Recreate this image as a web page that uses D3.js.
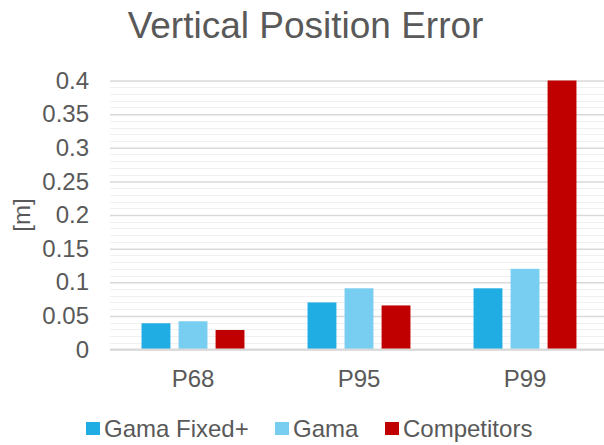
<!DOCTYPE html>
<html>
<head>
<meta charset="utf-8">
<script src="https://cdn.jsdelivr.net/npm/d3@7"></script>
<style>
  html, body { margin: 0; padding: 0; background: #fff; }
  svg { display: block; font-family: "Liberation Sans", Arial, sans-serif; }
</style>
</head>
<body>
<svg id="chart" width="604" height="445"></svg>
<script>
const categories = ["P68", "P95", "P99"];
const seriesNames = ["Gama Fixed+", "Gama", "Competitors"];
const seriesColors = ["#1FADE4", "#77CEF0", "#C00000"];
const gamaFixedValues = [0.039, 0.070, 0.091];
const gamaValues = [0.042, 0.091, 0.120];
const competitorValues = [0.029, 0.0655, 0.400];
const yTicks = [0, 0.05, 0.1, 0.15, 0.2, 0.25, 0.3, 0.35, 0.4];
const yTickLabels = ["0", "0.05", "0.1", "0.15", "0.2", "0.25", "0.3", "0.35", "0.4"];

const seriesValues = [gamaFixedValues, gamaValues, competitorValues];
const data = categories.map((c, i) => ({
  cat: c,
  values: seriesNames.map((s, j) => ({ series: s, value: seriesValues[j][i], color: seriesColors[j] }))
}));

const svg = d3.select("#chart");
const textColor = "#595959";
const plotLeft = 110, plotRight = 608, plotTop = 80.5, plotBottom = 349.5;
const fontSize = 24;

const y = d3.scaleLinear().domain([0, 0.4]).range([plotBottom, plotTop]);
const x0 = d3.scaleBand().domain(categories).range([plotLeft, plotRight]).paddingInner(0.38).paddingOuter(0.19);
const x1 = d3.scaleBand().domain(seriesNames).range([0, x0.bandwidth()]).paddingInner(0.22);

// minor gridlines
const minor = d3.range(0, 0.4001, 0.01).filter(v => Math.abs(Math.round(v / 0.05) * 0.05 - v) > 1e-6);
svg.append("g").selectAll("line").data(minor).join("line")
  .attr("x1", plotLeft).attr("x2", 604)
  .attr("y1", d => Math.round(y(d)) + 0.5).attr("y2", d => Math.round(y(d)) + 0.5)
  .attr("stroke", "#F0F0F0").attr("stroke-width", 1);

// major gridlines via axis
const yAxis = d3.axisLeft(y).tickValues(yTicks).tickSize(-(604 - plotLeft))
  .tickFormat((d, i) => yTickLabels[i]).tickPadding(21);
const gy = svg.append("g").attr("transform", `translate(${plotLeft},0)`).call(yAxis);
gy.select(".domain").remove();
gy.selectAll(".tick line").attr("stroke", "#D9D9D9").attr("stroke-width", 1.5);
gy.selectAll(".tick text").attr("fill", textColor).attr("font-size", fontSize)
  .attr("font-family", "Liberation Sans, Arial, sans-serif");

// bars
const groups = svg.append("g").selectAll("g").data(data).join("g")
  .attr("transform", d => `translate(${x0(d.cat)},0)`);
groups.selectAll("rect").data(d => d.values).join("rect")
  .attr("x", d => x1(d.series))
  .attr("y", d => y(d.value))
  .attr("width", x1.bandwidth())
  .attr("height", d => y(0) - y(d.value))
  .attr("fill", d => d.color);

// x axis
const xAxis = d3.axisBottom(x0).tickSize(0).tickPadding(20);
const gx = svg.append("g").attr("transform", `translate(0,${plotBottom})`).call(xAxis);
gx.select(".domain").remove();
gx.selectAll(".tick text").attr("fill", textColor).attr("font-size", fontSize)
  .attr("font-family", "Liberation Sans, Arial, sans-serif");
svg.append("line").attr("x1", plotLeft).attr("x2", 604).attr("y1", plotBottom).attr("y2", plotBottom)
  .attr("stroke", "#D9D9D9").attr("stroke-width", 2);

// title
svg.append("text").attr("x", 305.5).attr("y", 38).attr("text-anchor", "middle")
  .attr("fill", textColor).attr("font-size", 37).text("Vertical Position Error");

// y label
svg.append("text").attr("transform", `translate(30,${(plotTop + plotBottom) / 2}) rotate(-90)`)
  .attr("text-anchor", "middle").attr("fill", textColor).attr("font-size", fontSize).text("[m]");

// legend
const legendX = [86, 275, 385];
const lg = svg.append("g").selectAll("g").data(seriesNames).join("g")
  .attr("transform", (d, i) => `translate(${legendX[i]},0)`);
lg.append("rect").attr("x", 0).attr("y", 422).attr("width", 14).attr("height", 13)
  .attr("fill", (d, i) => seriesColors[i]);
lg.append("text").attr("x", 18).attr("y", 437).attr("fill", textColor).attr("font-size", fontSize).text(d => d);
</script>
</body>
</html>
